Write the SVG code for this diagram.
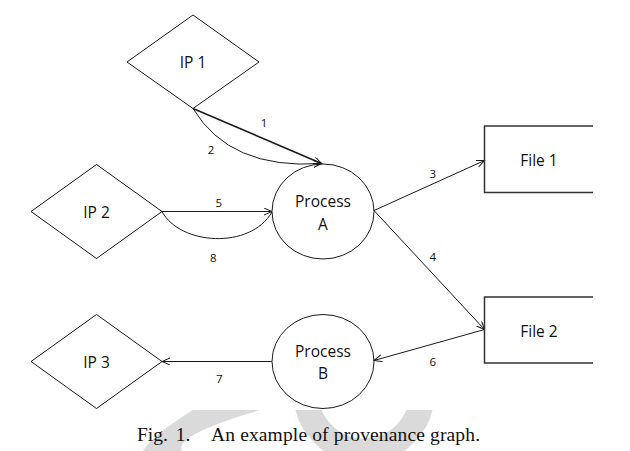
<svg xmlns="http://www.w3.org/2000/svg" width="630" height="451" viewBox="0 0 630 451">
  <style>
    .shape { fill: none; stroke: #1a1a1a; stroke-width: 1; }
    .file { fill: none; stroke: #333333; stroke-width: 1.5; }
    .edge { fill: none; stroke: #1a1a1a; stroke-width: 1; }
    .bold { stroke-width: 1.6; }
    .lbl { font-family: "Open Sans", "Liberation Sans", sans-serif; font-size: 15.5px; fill: #111111; text-anchor: middle; }
    .num { font-family: "Open Sans", "Liberation Sans", sans-serif; font-size: 11.5px; fill: #111111; text-anchor: middle; }
    .cap { font-family: "Liberation Serif", "Times New Roman", serif; font-size: 19.5px; fill: #111111; }
    .wm { fill: none; stroke: #dadada; }
  </style>
  <defs>
    <marker id="arr" markerUnits="userSpaceOnUse" markerWidth="10" markerHeight="10" refX="8" refY="3.5" orient="auto">
      <path d="M0,0 L8,3.5 L0,7" fill="none" stroke="#1a1a1a" stroke-width="1"/>
    </marker>
    <clipPath id="wmclip">
      <rect x="0" y="410" width="630" height="41"/>
    </clipPath>
  </defs>
  <rect x="0" y="0" width="630" height="451" fill="#ffffff"/>

  <g id="watermark" clip-path="url(#wmclip)">
    <path fill="#dadada" d="M193,410 Q152,435.5 143,451 L182,451 Q173,435.5 260,410 Z"/>
    <circle class="wm" stroke-width="25" cx="364" cy="393" r="58"/>
  </g>

  <g id="connectors">
    <path id="e1" class="edge bold" d="M193,108.5 L321.5,163.5" marker-end="url(#arr)"/>
    <path id="e2" class="edge" d="M193,108.5 Q230,170 321.5,163.5" marker-end="url(#arr)"/>
    <path id="e5" class="edge" d="M162,211.5 L272,211.5" marker-end="url(#arr)"/>
    <path id="e8" class="edge" d="M162,211.5 C180,245 250,250 272,212"/>
    <path id="e3" class="edge" d="M374,210.5 L484.5,160.5" marker-end="url(#arr)"/>
    <path id="e4" class="edge" d="M374,210.5 L484.5,329.5" marker-end="url(#arr)"/>
    <path id="e6" class="edge" d="M484.5,329.5 L374,360.5" marker-end="url(#arr)"/>
    <path id="e7" class="edge" d="M272,361.5 L162,361.5" marker-end="url(#arr)"/>
    <text class="num" x="264" y="126.7">1</text>
    <text class="num" x="211" y="154.3">2</text>
    <text class="num" x="218.7" y="207.3">5</text>
    <text class="num" x="213.3" y="261.7">8</text>
    <text class="num" x="432.7" y="178.3">3</text>
    <text class="num" x="432.7" y="260.7">4</text>
    <text class="num" x="432.7" y="366">6</text>
    <text class="num" x="219.3" y="383.3">7</text>
  </g>

  <g id="ip1">
    <polygon class="shape" points="193,15 259,62 193,108.5 127,62"/>
    <text class="lbl" x="193" y="67.5">IP 1</text>
  </g>
  <g id="ip2">
    <polygon class="shape" points="96.5,164.5 162,211.5 96.5,258.5 31,211.5"/>
    <text class="lbl" x="96.5" y="217.5">IP 2</text>
  </g>
  <g id="ip3">
    <polygon class="shape" points="96.5,314.5 162,361.5 96.5,408.5 31,361.5"/>
    <text class="lbl" x="96.5" y="367.5">IP 3</text>
  </g>
  <g id="processA">
    <ellipse class="shape" cx="323" cy="211.5" rx="51" ry="47.5"/>
    <text class="lbl" x="323" y="207">Process</text>
    <text class="lbl" x="323" y="229.5">A</text>
  </g>
  <g id="processB">
    <ellipse class="shape" cx="323" cy="361.5" rx="51" ry="47"/>
    <text class="lbl" x="323" y="357">Process</text>
    <text class="lbl" x="323" y="379">B</text>
  </g>
  <g id="file1">
    <path class="file" d="M593,126 H484.5 V192.5 H593"/>
    <text class="lbl" x="539" y="165.5">File 1</text>
  </g>
  <g id="file2">
    <path class="file" d="M593,297 H484.5 V363 H593"/>
    <text class="lbl" x="539" y="336.5">File 2</text>
  </g>

  <g id="caption">
    <text class="cap" x="137" y="441" word-spacing="3">Fig. 1.</text>
    <text class="cap" x="211" y="441" textLength="269" lengthAdjust="spacing">An example of provenance graph.</text>
  </g>
</svg>
